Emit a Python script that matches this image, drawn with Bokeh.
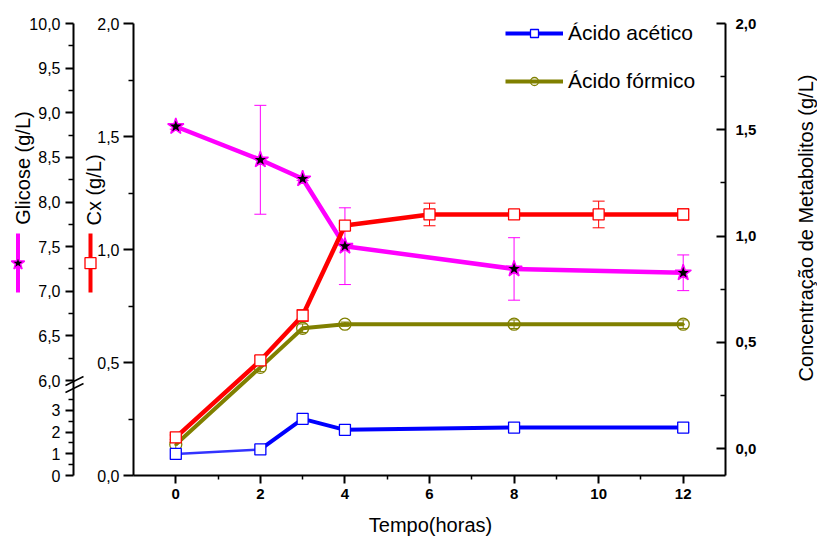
import math
from bokeh.plotting import figure
from bokeh.models import (Range1d, LinearAxis, FixedTicker, CustomJSTickFormatter,
                          ColumnDataSource, Whisker, TeeHead, Legend, LegendItem)
from bokeh.core.properties import value
from bokeh.embed import file_html
from bokeh.resources import INLINE

# ---------------- data ----------------
tempo_glic = [0, 2, 3, 4, 8, 12]
glicose = [8.846, 8.473, 8.26, 7.505, 7.25, 7.207]
glicose_err = [0.03, 0.61, 0.02, 0.43, 0.35, 0.20]

tempo_cx = [0, 2, 3, 4, 6, 8, 10, 12]
cx = [0.169, 0.509, 0.708, 1.106, 1.155, 1.155, 1.155, 1.155]
cx_err = [0.01, 0.02, 0.025, 0.01, 0.05, 0.01, 0.059, 0.025]

tempo_met = [0, 2, 3, 4, 8, 12]
acetico = [-0.024, -0.003, 0.141, 0.089, 0.10, 0.10]
formico = [0.02, 0.383, 0.567, 0.586, 0.586, 0.586]
formico_err = [0.02, 0.02, 0.02, 0.01, 0.02, 0.02]

x_ticks = [0, 2, 4, 6, 8, 10, 12]
x_minor = [1, 3, 5, 7, 9, 11]
cx_ticks = [0.0, 0.5, 1.0, 1.5, 2.0]
cx_minor = [0.25, 0.75, 1.25, 1.75]
met_ticks = [0.0, 0.5, 1.0, 1.5, 2.0]
met_minor = [0.25, 0.75, 1.25, 1.75]
glic_upper_ticks = [6.0, 6.5, 7.0, 7.5, 8.0, 8.5, 9.0, 9.5, 10.0]
glic_upper_minor = [6.25, 6.75, 7.25, 7.75, 8.25, 8.75, 9.25, 9.75]
glic_lower_ticks = [0, 1, 2, 3]
glic_lower_minor = [0.5, 1.5, 2.5, 3.5]

# ---------------- geometry (page pixels) ----------------
W, H = 817, 540
AX_L, AX_R, AX_T, AX_B = 133, 725, 23, 475
GLIC_AXIS_X = 73
GLIC_6_PY = 380          # where 6,0 of the broken glucose axis sits
GLIC_LOW_PX = 21.667     # pixels per unit on the lower glucose segment
MET_0_PY = 448.3         # where 0,0 of the metabolite axis sits
X0, X1 = -1, 13
Y0, Y1 = 0.0, 2.0


def span(pa, va, pb, vb, lo, hi):
    k = (vb - va) / (pb - pa)
    return va + (lo - pa) * k, va + (hi - pa) * k


xs, xe = span(AX_L, X0, AX_R, X1, 0, W)
ys, ye = span(AX_B, Y0, AX_T, Y1, H, 0)
gs, ge = span(GLIC_6_PY, 6.0, AX_T, 10.0, H, 0)
ms, me = span(MET_0_PY, 0.0, AX_T, 2.0, H, 0)


def fx(px):
    return xs + px * (xe - xs) / W


def fy(py):
    return ys + (H - py) * (ye - ys) / H


def gy(py):
    return gs + (H - py) * (ge - gs) / H


def my(py):
    return ms + (H - py) * (me - ms) / H


def low_pos(v):
    return gy(AX_B - v * GLIC_LOW_PX)


FONT = "Liberation Sans"
MAG, RED, OLIVE, BLUE = "#FF00FF", "#FF0000", "#808000", "#0000FF"

p = figure(width=W, height=H, output_backend="svg", toolbar_location=None, title=None,
           x_range=Range1d(xs, xe), y_range=Range1d(ys, ye),
           min_border=0, min_border_left=0, min_border_right=0,
           min_border_top=0, min_border_bottom=0)
p.extra_y_ranges = {"glic": Range1d(gs, ge), "met": Range1d(ms, me)}
p.xgrid.visible = False
p.ygrid.visible = False
p.outline_line_color = None
p.background_fill_color = "white"
p.border_fill_color = "white"

comma_fmt = CustomJSTickFormatter(code="return tick.toFixed(1).replace('.', ',');")


def style(ax, tick_out, tick_in, minor_out, minor_in, standoff, size, bold=False):
    ax.major_tick_out = tick_out
    ax.major_tick_in = tick_in
    ax.minor_tick_out = minor_out
    ax.minor_tick_in = minor_in
    ax.axis_line_width = 2
    ax.major_tick_line_width = 2
    ax.minor_tick_line_width = 1.5
    ax.major_label_standoff = standoff
    ax.major_label_text_font = FONT
    ax.major_label_text_font_size = size
    ax.major_label_text_font_style = "bold" if bold else "normal"
    ax.major_label_text_color = "black"


# x axis
xa = p.xaxis[0]
xa.ticker = FixedTicker(ticks=x_ticks, minor_ticks=x_minor)
xa.fixed_location = Y0
xa.bounds = (X0, X1)
style(xa, 8, 0, 4, 0, 5, "15px", bold=True)

# Cx axis
ca = p.yaxis[0]
ca.ticker = FixedTicker(ticks=cx_ticks, minor_ticks=cx_minor)
ca.formatter = comma_fmt
ca.fixed_location = X0
ca.bounds = (Y0, Y1)
style(ca, 10, 0, 5, 0, 4, "16px")

# Glicose axis (broken)
g_pos = [low_pos(v) for v in glic_lower_ticks] + glic_upper_ticks
g_lab = [str(v) for v in glic_lower_ticks] + [("%.1f" % v).replace(".", ",") for v in glic_upper_ticks]
g_minor = [low_pos(v) for v in glic_lower_minor] + glic_upper_minor
ga = LinearAxis(y_range_name="glic",
                ticker=FixedTicker(ticks=g_pos, minor_ticks=g_minor),
                formatter=CustomJSTickFormatter(args=dict(pos=g_pos, labs=g_lab), code="""
                    for (let i = 0; i < pos.length; i++) {
                        if (Math.abs(tick - pos[i]) < 1e-6) return labs[i];
                    }
                    return "";
                """))
ga.fixed_location = fx(GLIC_AXIS_X)
ga.bounds = (gy(AX_B), 10.0)
style(ga, 8, 0, 5, 0, 5, "16px")
p.add_layout(ga, "left")

# Metabolitos axis (right)
ma = LinearAxis(y_range_name="met", ticker=FixedTicker(ticks=met_ticks, minor_ticks=met_minor),
                formatter=comma_fmt)
ma.fixed_location = X1
ma.bounds = (my(AX_B), 2.0)
style(ma, 0, 9, 0, 5, 10, "15px", bold=True)
p.add_layout(ma, "right")

# ---------------- series ----------------
src_g = ColumnDataSource(dict(t=tempo_glic, y=glicose,
                              up=[a + e for a, e in zip(glicose, glicose_err)],
                              lo=[a - e for a, e in zip(glicose, glicose_err)]))
src_c = ColumnDataSource(dict(t=tempo_cx, y=cx,
                              up=[a + e for a, e in zip(cx, cx_err)],
                              lo=[a - e for a, e in zip(cx, cx_err)]))
src_f = ColumnDataSource(dict(t=tempo_met, y=formico,
                              up=[a + e for a, e in zip(formico, formico_err)],
                              lo=[a - e for a, e in zip(formico, formico_err)]))
src_a = ColumnDataSource(dict(t=tempo_met, y=acetico))
src_a_first = ColumnDataSource(dict(t=tempo_met[:2], y=acetico[:2]))
src_a_rest = ColumnDataSource(dict(t=tempo_met[1:], y=acetico[1:]))

p.add_layout(Whisker(source=src_g, base="t", upper="up", lower="lo", y_range_name="glic",
                     line_color=MAG, line_width=1,
                     upper_head=TeeHead(size=12, line_color=MAG, line_width=1),
                     lower_head=TeeHead(size=12, line_color=MAG, line_width=1)))
p.add_layout(Whisker(source=src_c, base="t", upper="up", lower="lo",
                     line_color=RED, line_width=1,
                     upper_head=TeeHead(size=12, line_color=RED, line_width=1),
                     lower_head=TeeHead(size=12, line_color=RED, line_width=1)))
p.add_layout(Whisker(source=src_f, base="t", upper="up", lower="lo", y_range_name="met",
                     line_color=OLIVE, line_width=1,
                     upper_head=TeeHead(size=8, line_color=OLIVE, line_width=1),
                     lower_head=TeeHead(size=8, line_color=OLIVE, line_width=1)))

p.line("t", "y", source=src_g, y_range_name="glic", line_color=MAG, line_width=4.5)
p.scatter("t", "y", source=src_g, y_range_name="glic", marker="star", size=17,
          fill_color="black", line_color=MAG, line_width=1.5)

olive_line = p.line("t", "y", source=src_f, y_range_name="met", line_color=OLIVE, line_width=4)
olive_sc = p.scatter("t", "y", source=src_f, y_range_name="met", marker="circle_dot", size=12,
                     fill_alpha=0, line_color=OLIVE, line_width=1.3)

p.line("t", "y", source=src_c, line_color=RED, line_width=4.5)
p.scatter("t", "y", source=src_c, marker="square", size=11,
          fill_color="white", line_color=RED, line_width=1.3)

p.line("t", "y", source=src_a_first, y_range_name="met", line_color=BLUE, line_width=2.5,
       line_alpha=0.8)
blue_line = p.line("t", "y", source=src_a_rest, y_range_name="met", line_color=BLUE, line_width=4)
blue_sc = p.scatter("t", "y", source=src_a, y_range_name="met", marker="square", size=11,
                    fill_color="white", line_color=BLUE, line_width=1.3)

# ---------------- legend ----------------
legend = Legend(items=[LegendItem(label="Ácido acético", renderers=[blue_line, blue_sc]),
                       LegendItem(label="Ácido fórmico", renderers=[olive_line, olive_sc])],
                location=(505, H - 93),
                orientation="vertical", border_line_color=None, background_fill_alpha=0,
                glyph_width=58, glyph_height=20, label_height=20, spacing=24,
                padding=0, margin=0, label_standoff=5,
                label_text_font=FONT, label_text_font_size="21px", label_text_color="black")
p.add_layout(legend)

# ---------------- axis titles & legend symbols ----------------
p.text(x=[fx(22), fx(93.5), fx(805)], y=[fy(167.5), fy(189.5), fy(227.5)],
       text=["Glicose (g/L)", "Cx (g/L)", "Concentração de Metabolitos (g/L)"],
       angle=math.pi / 2, text_align="center", text_baseline="middle",
       text_font=value(FONT), text_font_size=value("20px"), text_color="black")
p.text(x=[fx(430)], y=[fy(524)], text=["Tempo(horas)"],
       text_align="center", text_baseline="middle",
       text_font=value(FONT), text_font_size=value("20px"), text_color="black")

p.segment(x0=[fx(17.5), fx(90)], y0=[fy(292), fy(292)], x1=[fx(17.5), fx(90)], y1=[fy(233), fy(233)],
          line_color=[MAG, RED], line_width=4)
p.scatter(x=[fx(17.5)], y=[fy(262.7)], marker="star", size=14,
          fill_color="black", line_color=MAG, line_width=1.5)
p.scatter(x=[fx(90)], y=[fy(262.7)], marker="square", size=11,
          fill_color="white", line_color=RED, line_width=1.3)

# axis break marks on the glucose axis
p.segment(x0=[fx(65), fx(65)], y0=[fy(385), fy(392)], x1=[fx(83), fx(83)], y1=[fy(376), fy(383)],
          line_color="black", line_width=1.5)

open("out.html", "w").write(file_html(p, INLINE))
